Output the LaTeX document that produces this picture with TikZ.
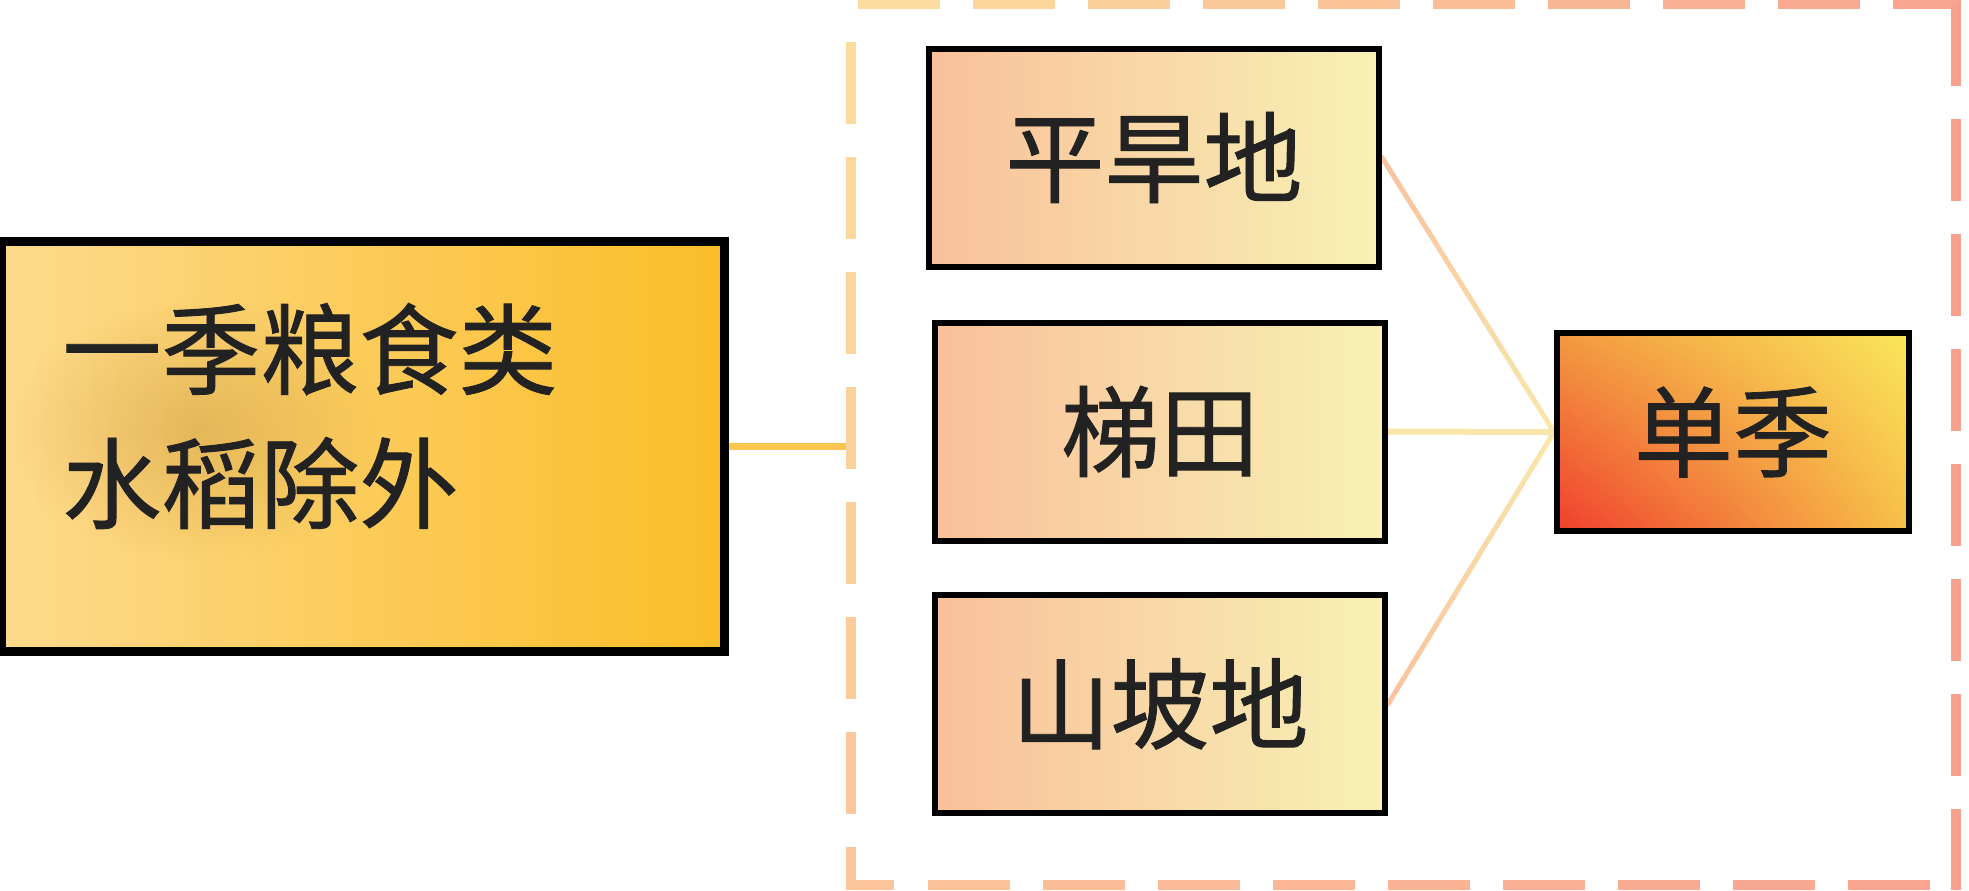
\documentclass[tikz,border=0pt]{standalone}
\usepackage{fontspec}
\newfontfamily\cjk[FakeBold=0.9]{Noto Sans CJK SC}
\usetikzlibrary{shadings,fadings,calc,backgrounds}
\definecolor{dashY}{HTML}{FCDC9E}
\definecolor{dashP}{HTML}{FBC49A}
\definecolor{dashS}{HTML}{F8A08E}
\definecolor{bigL}{HTML}{FDDA8C}
\definecolor{bigR}{HTML}{FBBD28}
\definecolor{blob}{HTML}{C8963C}
\definecolor{smL}{HTML}{F9C09A}
\definecolor{smR}{HTML}{F8F1B4}
\definecolor{dLL}{HTML}{F03E2E}
\definecolor{dUL}{HTML}{F29A40}
\definecolor{dLR}{HTML}{F6C048}
\definecolor{dUR}{HTML}{FAE65A}
\definecolor{txt}{HTML}{222222}
\definecolor{linkO}{HTML}{FBC54E}
\definecolor{linkP}{HTML}{F9C4A0}
\definecolor{linkY}{HTML}{F8E6AA}
\tikzfading[name=fuzzyblob, inner color=transparent!55, outer color=transparent!100]
\begin{document}
\begin{tikzpicture}[x=0.5pt,y=-0.5pt,
  cjkfont/.style={font=\cjk\fontsize{49.5}{67}\selectfont, text=txt},
  box/.style={draw=black, line width=3pt, inner sep=0pt, cjkfont},
  small/.style={box, minimum width=225pt, minimum height=109pt, left color=smL, right color=smR},
  frame/.style={line width=5pt},
  link/.style={line width=2.5pt, line cap=round}]
\useasboundingbox (0,0) rectangle (1969,890);

% dashed frame
\foreach \s in {858,973,...,1893} {
  \pgfmathsetmacro{\e}{min(\s+82,1961)}
  \pgfmathtruncatemacro{\p}{(\s-851)/1105*100}
  \draw[frame, color=dashS!\p!dashY] (\s,4) -- (\e,4);
}
\foreach \s in {4,119,...,809} {
  \pgfmathsetmacro{\e}{min(\s+82,890)}
  \draw[frame, color=dashS] (1956,\s) -- (1956,\e);
}
\foreach \s in {928,1043,...,1848} {
  \pgfmathsetmacro{\e}{min(\s+82,1956)}
  \pgfmathtruncatemacro{\p}{(\s-851)/1105*100}
  \draw[frame, color=dashS!\p!dashP] (\s,885) -- (\e,885);
}
\draw[frame, color=dashP] (846,885) -- (894,885);
\foreach \s in {42,157,...,847} {
  \pgfmathsetmacro{\e}{min(\s+82,890)}
  \pgfmathtruncatemacro{\p}{(\s-4)/881*100}
  \draw[frame, color=dashP!\p!dashY] (851,\s) -- (851,\e);
}

% left box
\node[box, minimum width=360pt, minimum height=203.5pt, left color=bigL, right color=bigR] (L) at (363,446.5) {};
\fill[color=blob, path fading=fuzzyblob] (200,430) ellipse [x radius=190, y radius=130];
\draw[line width=3pt] (L.south west) rectangle (L.north east);
\node[cjkfont, align=left, anchor=west, inner sep=0pt] (Lt) at (62,416) {一季粮食类\\水稻除外};

% right boxes
\node[small] (P) at (1154,157.5) {平旱地\hspace{12pt}};
\node[small] (T) at (1160,431.5) {梯田\hspace{10pt}};
\node[small] (S) at (1160,704) {\raisebox{4pt}{山坡地}\hspace{12pt}};
\node[box, minimum width=176pt, minimum height=99pt, lower left=dLL, upper left=dUL, upper right=dUR, lower right=dLR] (D) at (1733,432) {单季\hspace{12pt}};

\coordinate (Fj) at (851,446.5);

\begin{scope}[on background layer]
\draw[link, line width=3.5pt, color=linkO] (L.east) -- (Fj);
\draw[link, line width=3pt, color=linkY] (T.east) -- (D.west);
\foreach \i in {0,...,9} {
  \pgfmathsetmacro{\a}{\i/10}
  \pgfmathsetmacro{\b}{(\i+1)/10}
  \pgfmathtruncatemacro{\p}{\i*100/9}
  \draw[link, color=linkY!\p!linkP] ($(P.east)!\a!(D.west)$) -- ($(P.east)!\b!(D.west)$);
  \draw[link, color=linkY!\p!linkP] ($(S.east)!\a!(D.west)$) -- ($(S.east)!\b!(D.west)$);
}
\end{scope}
\end{tikzpicture}
\end{document}
